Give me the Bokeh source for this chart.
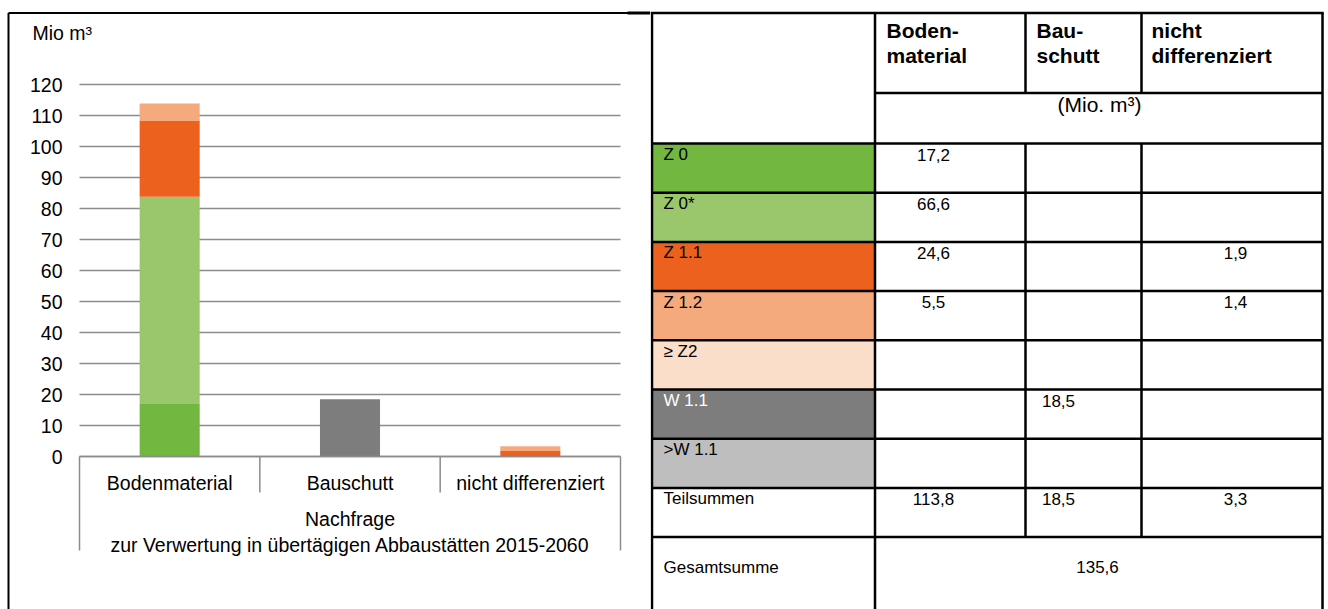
from bokeh.plotting import figure
from bokeh.models import Range1d, FixedTicker, LinearAxis, ColumnDataSource
from bokeh.layouts import row
from bokeh.core.properties import value
from bokeh.embed import file_html
from bokeh.resources import INLINE

# ---------------- data ----------------
group_label = "Nachfrage\nzur Verwertung in übertägigen Abbaustätten 2015-2060"
categories = ["Bodenmaterial", "Bauschutt", "nicht differenziert"]
classes = ["Z 0", "Z 0*", "Z 1.1", "Z 1.2", "≥ Z2", "W 1.1", ">W 1.1"]
class_colors = ["#72B740", "#9BC76C", "#EB611D", "#F4AA7C", "#FADECA", "#7D7D7D", "#BEBEBE"]
bodenmaterial = [17.2, 66.6, 24.6, 5.5, 0, 0, 0]
bauschutt = [0, 0, 0, 0, 0, 18.5, 0]
nicht_differenziert = [0, 0, 1.9, 1.4, 0, 0, 0]
teilsummen = [113.8, 18.5, 3.3]
gesamtsumme = 135.6
y_ticks = [0, 10, 20, 30, 40, 50, 60, 70, 80, 90, 100, 110, 120]
header_lines = [["Boden-", "material"], ["Bau-", "schutt"], ["nicht", "differenziert"]]
unit_label = "Mio m³"
table_unit = "(Mio. m³)"

FONT_NAME = "Liberation Sans"
FONT = value(FONT_NAME)
GRID = "#8C8C8C"
CHART_FS = "19.5px"

# ---------------- left: stacked bar chart ----------------
W_L, H = 650, 609
PLOT_L, PLOT_R, Y0_PX, PX_PER_UNIT = 79, 620, 456, 3.1
n_cat = len(categories)
cat_px = (PLOT_R - PLOT_L) / n_cat

def px2x(px):
    return (px - PLOT_L) / cat_px

def px2y(py):
    return (Y0_PX - py) / PX_PER_UNIT

cat_x = [i + 0.5 for i in range(n_cat)]
src = {"x": cat_x}
for i, cl in enumerate(classes):
    src[cl] = [bodenmaterial[i], bauschutt[i], nicht_differenziert[i]]
source = ColumnDataSource(src)

p = figure(width=W_L, height=H, x_range=Range1d(px2x(0), px2x(W_L)),
           y_range=Range1d(px2y(H), px2y(0)), output_backend="svg",
           toolbar_location=None, title=None, x_axis_location=None, y_axis_location=None,
           min_border=0, min_border_left=0, min_border_right=0, min_border_top=0,
           min_border_bottom=0)
p.outline_line_color = None
p.xgrid.visible = False
p.ygrid.visible = False
p.background_fill_color = "white"
p.border_fill_color = "white"

# horizontal gridlines at the value ticks, over the category area only
p.segment(x0=[0] * len(y_ticks), y0=y_ticks, x1=[n_cat] * len(y_ticks), y1=y_ticks,
          line_color=GRID, line_width=1.5)

p.vbar_stack(classes, x="x", width=0.333, fill_color=class_colors, line_color=None,
             source=source)

# value axis
ya = LinearAxis(fixed_location=0, ticker=FixedTicker(ticks=y_ticks))
ya.axis_line_color = None
ya.major_tick_line_color = None
ya.minor_tick_line_color = None
ya.major_tick_out = 0
ya.major_tick_in = 0
ya.major_label_standoff = 17
ya.major_label_text_font = FONT_NAME
ya.major_label_text_font_size = CHART_FS
ya.major_label_text_color = "black"
p.add_layout(ya, "left")

# category axis at value 0
xa = LinearAxis(fixed_location=0, ticker=FixedTicker(ticks=cat_x), bounds=(0, n_cat))
xa.major_label_overrides = {x: c for x, c in zip(cat_x, categories)}
xa.axis_line_color = GRID
xa.axis_line_width = 1.5
xa.major_tick_line_color = None
xa.minor_tick_line_color = None
xa.major_tick_out = 0
xa.major_tick_in = 0
xa.major_label_standoff = 15
xa.major_label_text_font = FONT_NAME
xa.major_label_text_font_size = CHART_FS
xa.major_label_text_color = "black"
xa.axis_label = group_label
xa.axis_label_standoff = 11
xa.axis_label_text_font = FONT_NAME
xa.axis_label_text_font_size = CHART_FS
xa.axis_label_text_font_style = "normal"
xa.axis_label_text_color = "black"
xa.axis_label_text_line_height = 1.2
p.add_layout(xa, "below")

# category separators at the category boundaries
bounds = list(range(n_cat + 1))
sep_bottom = [px2y(550) if b in (0, n_cat) else px2y(492) for b in bounds]
p.segment(x0=bounds, y0=[0] * len(bounds), x1=bounds, y1=sep_bottom,
          line_color=GRID, line_width=1.5)

# unit label
p.text(x=[px2x(32)], y=[px2y(32)], text=[unit_label], text_font=FONT,
       text_font_size=CHART_FS, text_baseline="middle", text_align="left",
       text_color="black")

# chart box border (left and top edge)
p.segment(x0=[px2x(8), px2x(8), px2x(627)], y0=[px2y(12.5), px2y(12.5), px2y(12.5)],
          x1=[px2x(8), px2x(650), px2x(650)], y1=[px2y(H + 5), px2y(12.5), px2y(12.5)],
          line_color="black", line_width=[2, 2, 2.8])

# ---------------- right: table ----------------
W_T = 1328 - W_L
t = figure(width=W_T, height=H, x_range=Range1d(W_L, W_L + W_T), y_range=Range1d(H, 0),
           output_backend="svg", toolbar_location=None, title=None,
           x_axis_location=None, y_axis_location=None,
           min_border=0, min_border_left=0, min_border_right=0, min_border_top=0,
           min_border_bottom=0)
t.outline_line_color = None
t.xgrid.visible = False
t.ygrid.visible = False
t.background_fill_color = "white"
t.border_fill_color = "white"

col_x = [651.5, 874.5, 1025, 1141, 1322]
TOP, SPLIT, BODY, ROW_H = 12.5, 92.5, 143, 49.2
n_rows = len(classes) + 1  # classes + Teilsummen
row_tops = [BODY + i * ROW_H for i in range(n_rows + 1)]  # last = Gesamtsumme top
BOTTOM = H + 5

# coloured class cells
t.quad(left=[col_x[0]] * len(classes), right=[col_x[1]] * len(classes),
       top=row_tops[:len(classes)], bottom=row_tops[1:len(classes) + 1],
       fill_color=class_colors, line_color=None)

xs0, ys0, xs1, ys1 = [], [], [], []
def seg(a, b, c, d):
    xs0.append(a); ys0.append(b); xs1.append(c); ys1.append(d)

seg(col_x[0] - 1.5, TOP, col_x[-1] + 1.2, TOP)
seg(col_x[1], SPLIT, col_x[-1], SPLIT)
for y in row_tops:
    seg(col_x[0], y, col_x[-1], y)
seg(col_x[0], TOP, col_x[0], BOTTOM)
seg(col_x[1], TOP, col_x[1], BOTTOM)
seg(col_x[-1], TOP, col_x[-1], BOTTOM)
for cx in col_x[2:4]:
    seg(cx, TOP, cx, SPLIT)
    seg(cx, BODY, cx, row_tops[-1])
t.segment(x0=xs0, y0=ys0, x1=xs1, y1=ys1, line_color="black", line_width=2.5)

def fmt(v):
    return ("%.1f" % v).replace(".", ",") if v else ""

# header
hx, hy, ht = [], [], []
for i, lines in enumerate(header_lines):
    for j, ln in enumerate(lines):
        hx.append([886, 1036, 1151][i]); hy.append(30 + 25 * j); ht.append(ln)
t.text(x=hx, y=hy, text=ht, text_font=FONT, text_font_size="21px", text_font_style="bold",
       text_baseline="middle", text_align="left", text_color="black")
t.text(x=[1099], y=[104], text=[table_unit], text_font=FONT, text_font_size="21px",
       text_baseline="middle", text_align="center", text_color="black")

# row labels
labels = classes + ["Teilsummen"]
lab_colors = ["black"] * len(labels)
lab_colors[classes.index("W 1.1")] = "white"
TBL_FS = "17px"
ROW_OFF = 11
t.text(x=[663] * len(labels), y=[row_tops[i] + ROW_OFF for i in range(len(labels))],
       text=labels, text_font=FONT, text_font_size=TBL_FS, text_baseline="middle",
       text_align="left", text_color=lab_colors)
t.text(x=[663], y=[row_tops[-1] + 30], text=["Gesamtsumme"], text_font=FONT,
       text_font_size=TBL_FS, text_baseline="middle", text_align="left", text_color="black")

# values
val_x = [933, 1058, 1235]
vx, vy, vt = [], [], []
for c, series in enumerate([bodenmaterial, bauschutt, nicht_differenziert]):
    for i, v in enumerate(series):
        if v:
            vx.append(val_x[c]); vy.append(row_tops[i] + ROW_OFF); vt.append(fmt(v))
for c, v in enumerate(teilsummen):
    vx.append(val_x[c]); vy.append(row_tops[len(classes)] + ROW_OFF); vt.append(fmt(v))
vx.append(1097); vy.append(row_tops[-1] + 30); vt.append(fmt(gesamtsumme))
t.text(x=vx, y=vy, text=vt, text_font=FONT, text_font_size=TBL_FS, text_baseline="middle",
       text_align="center", text_color="black")

layout = row(p, t)
open("out.html", "w").write(file_html(layout, INLINE))
